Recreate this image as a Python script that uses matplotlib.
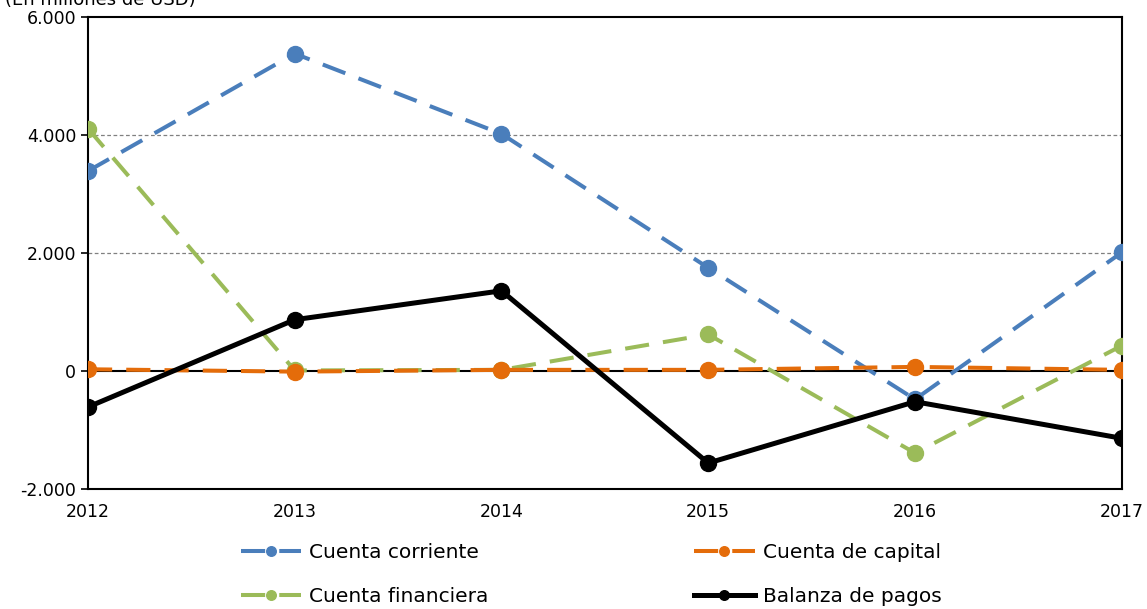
import matplotlib
matplotlib.use("Agg")
import matplotlib.pyplot as plt

years = [2012, 2013, 2014, 2015, 2016, 2017]
cuenta_corriente = [3390, 5380, 4020, 1750, -480, 2010]
cuenta_capital = [30, -10, 20, 20, 70, 20]
cuenta_financiera = [4110, 10, 20, 620, -1390, 430]
balanza_pagos = [-610, 870, 1360, -1560, -520, -1140]

plt.rcParams['font.family'] = ['DejaVu Sans']

fig = plt.figure(figsize=(11.47, 6.09), dpi=100)
ax = fig.add_axes([0.0767, 0.197, 0.9013, 0.775])

dash = (6, 3.5)
l1, = ax.plot(years, cuenta_corriente, color='#4A7EBB', lw=2.9, dashes=dash,
              marker='o', ms=11.5, label='Cuenta corriente', zorder=3)
l2, = ax.plot(years, cuenta_capital, color='#E46C0A', lw=2.9, dashes=dash,
              marker='o', ms=11.5, label='Cuenta de capital', zorder=4)
l3, = ax.plot(years, cuenta_financiera, color='#9BBB59', lw=2.9, dashes=dash,
              marker='o', ms=11.5, label='Cuenta financiera', zorder=3)
l4, = ax.plot(years, balanza_pagos, color='black', lw=3.6,
              marker='o', ms=11.5, label='Balanza de pagos', zorder=5)

ax.set_xlim(2012, 2017)
ax.set_ylim(-2000, 6000)
ax.set_yticks([-2000, 0, 2000, 4000, 6000])
ax.set_yticklabels(['-2.000', '0', '2.000', '4.000', '6.000'])
ax.set_xticks(years)
ax.tick_params(axis='both', labelsize=12.5, length=5, width=1.2)
ax.tick_params(axis='x', length=0, pad=10)

for y in [2000, 4000]:
    ax.axhline(y, color='#808080', lw=0.9, ls=(0, (3, 2)), zorder=1)
ax.axhline(0, color='black', lw=1.5, zorder=2)

for s in ax.spines.values():
    s.set_linewidth(1.5)
    s.set_color('black')

fig.text(0.004, 1.015, '(En millones de USD)', fontsize=13, va='top', ha='left')

ax.legend([l1, l3, l2, l4],
          ['Cuenta corriente', 'Cuenta financiera', 'Cuenta de capital', 'Balanza de pagos'],
          loc='upper left', bbox_to_anchor=(0.148, -0.115), ncol=2,
          frameon=False, fontsize=14.5, handlelength=3.0, columnspacing=10.2,
          labelspacing=1.25, handletextpad=0.4, markerscale=0.6,
          borderpad=0, borderaxespad=0)

fig.savefig('out.png', dpi=100)
